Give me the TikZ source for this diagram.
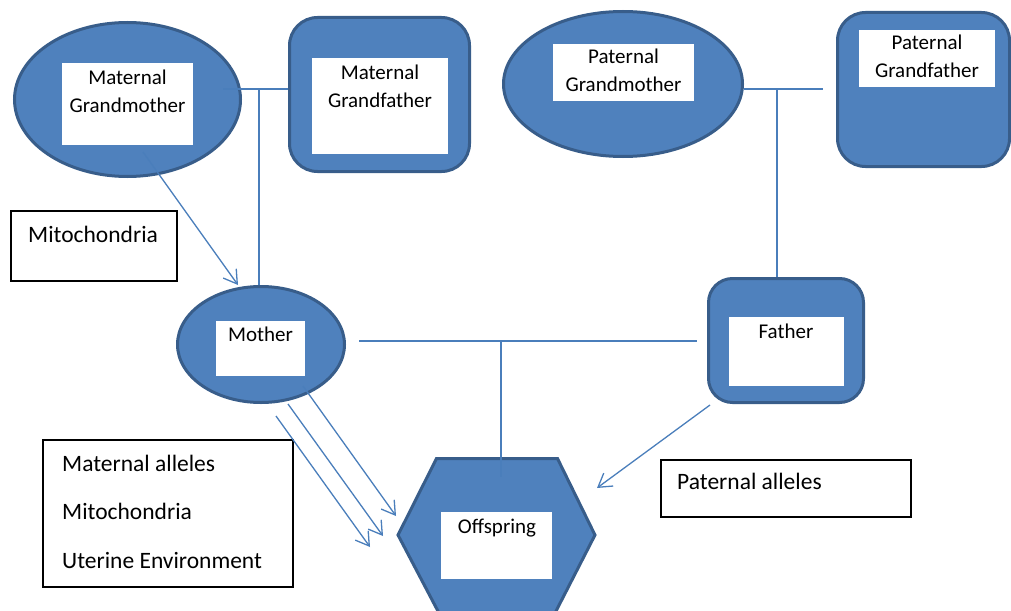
\documentclass[tikz,border=0pt]{standalone}
\usepackage{fontspec}
\setmainfont{Carlito}
\usetikzlibrary{shapes.geometric,arrows.meta}
\definecolor{shapefill}{HTML}{4F81BD}
\definecolor{shapeline}{HTML}{385D8A}
\definecolor{conn}{HTML}{4A7EBB}
\begin{document}
\begin{tikzpicture}[x=1pt,y=-1pt,
  person/.style={draw=shapeline, fill=shapefill, line width=3pt, inner sep=0pt},
  oval/.style={person, ellipse},
  rbox/.style={person, rectangle, rounded corners=28pt},
  wbox/.style={fill=white, inner sep=0pt},
  lbl/.style={font=\fontsize{21}{28}\selectfont, align=center, inner sep=0pt, anchor=north},
  tbox/.style={draw=black, line width=1.6pt, fill=white, inner sep=0pt},
  tlbl/.style={font=\fontsize{23.5}{28}\selectfont, inner sep=0pt, anchor=base west},
  link/.style={draw=conn, line width=1.3pt},
  arr/.style={link, -{Straight Barb[length=13pt,width=16pt]}}
]
\useasboundingbox (0,0) rectangle (1011,610);

% blue shapes
\node[oval, minimum width=226pt, minimum height=154pt] (mgm) at (127.5,99.5) {};
\node[rbox, minimum width=180pt, minimum height=154pt] (mgf) at (379.5,94.5) {};
\node[oval, minimum width=239pt, minimum height=145pt] (pgm) at (623,84) {};
\node[rbox, minimum width=172pt, minimum height=154pt] (pgf) at (923.5,89.5) {};
\node[oval, minimum width=167pt, minimum height=116pt] (mother) at (261,344.5) {};
\node[rbox, rounded corners=24pt, minimum width=155pt, minimum height=124pt] (father) at (786,340.5) {};
\coordinate (hA) at (436.5,458.5);
\coordinate (hB) at (557.5,458.5);
\coordinate (hC) at (595,535);
\coordinate (hD) at (553.5,616);
\coordinate (hE) at (440.5,616);
\coordinate (hF) at (398,535);
\draw[person] (hA) -- (hB) -- (hC) -- (hD) -- (hE) -- (hF) -- cycle;

% white label boxes
\node[wbox, minimum width=131pt, minimum height=82pt] (mgmw) at (127.5,104) {};
\node[wbox, minimum width=136pt, minimum height=96pt] (mgfw) at (380,106) {};
\node[wbox, minimum width=141pt, minimum height=57pt] (pgmw) at (623.5,72.5) {};
\node[wbox, minimum width=136pt, minimum height=57pt] (pgfw) at (927,58.5) {};
\node[wbox, minimum width=89pt, minimum height=55pt] (motherw) at (260.5,348.5) {};
\node[wbox, minimum width=115pt, minimum height=69pt] (fatherw) at (786.5,351.5) {};
\node[wbox, minimum width=111pt, minimum height=67pt] (offw) at (496.5,545.5) {};

\node[lbl] (mgmt) at (127.5,70) {Maternal\\Grandmother};
\node[lbl] (mgft) at (380,65) {Maternal\\Grandfather};
\node[lbl] (pgmt) at (623.5,49) {Paternal\\Grandmother};
\node[lbl] (pgft) at (927,35) {Paternal\\Grandfather};
\node[lbl] (mothert) at (260.5,327) {Mother};
\node[lbl] (fathert) at (786,324) {Father};
\node[lbl] (offt) at (497,519) {Offspring};

% text boxes
\node[tbox, minimum width=166pt, minimum height=70pt] (mitobox) at (94,246) {};
\node[tlbl] (mitot) at (28,242.5) {Mitochondria};
\node[tbox, minimum width=250pt, minimum height=147pt] (matbox) at (168,513.5) {};
\node[tlbl] (matt1) at (62,471.5) {Maternal alleles};
\node[tlbl] (matt2) at (62,519.5) {Mitochondria};
\node[tlbl] (matt3) at (62,568.5) {Uterine Environment};
\node[tbox, minimum width=250pt, minimum height=57pt] (patbox) at (786,488.5) {};
\node[tlbl] (patt) at (677,489.5) {Paternal alleles};

% connectors
\coordinate (mgmR) at (223,89);
\coordinate (mj) at (259,89);
\draw[link] (mgmR) -- (mgmR -| mgf.west);
\draw[link] (mj) -- (mj |- mother.north);
\coordinate (mgmS) at (143,152);
\coordinate (mothT) at (238,285);
\draw[arr] (mgmS) -- (mothT);

\coordinate (pgmR) at (744,89);
\coordinate (pgfL) at (823,89);
\coordinate (pj) at (777,89);
\draw[link] (pgmR) -- (pgfL);
\draw[link] (pj) -- (pj |- father.north);

\coordinate (mfL) at (359,341);
\coordinate (mfR) at (697,341);
\coordinate (oj) at (501,341);
\coordinate (offTop) at (501,477);
\draw[link] (mfL) -- (mfR);
\draw[link] (oj) -- (offTop);

\coordinate (m1s) at (303,386);
\coordinate (m1e) at (396,516);
\coordinate (m2s) at (288,404);
\coordinate (m2e) at (383,536);
\coordinate (m3s) at (276,416);
\coordinate (m3e) at (370,547);
\draw[arr] (m1s) -- (m1e);
\draw[arr] (m2s) -- (m2e);
\draw[arr] (m3s) -- (m3e);

\coordinate (fs) at (710,405);
\coordinate (fe) at (597,488);
\draw[arr] (fs) -- (fe);
\end{tikzpicture}
\end{document}
